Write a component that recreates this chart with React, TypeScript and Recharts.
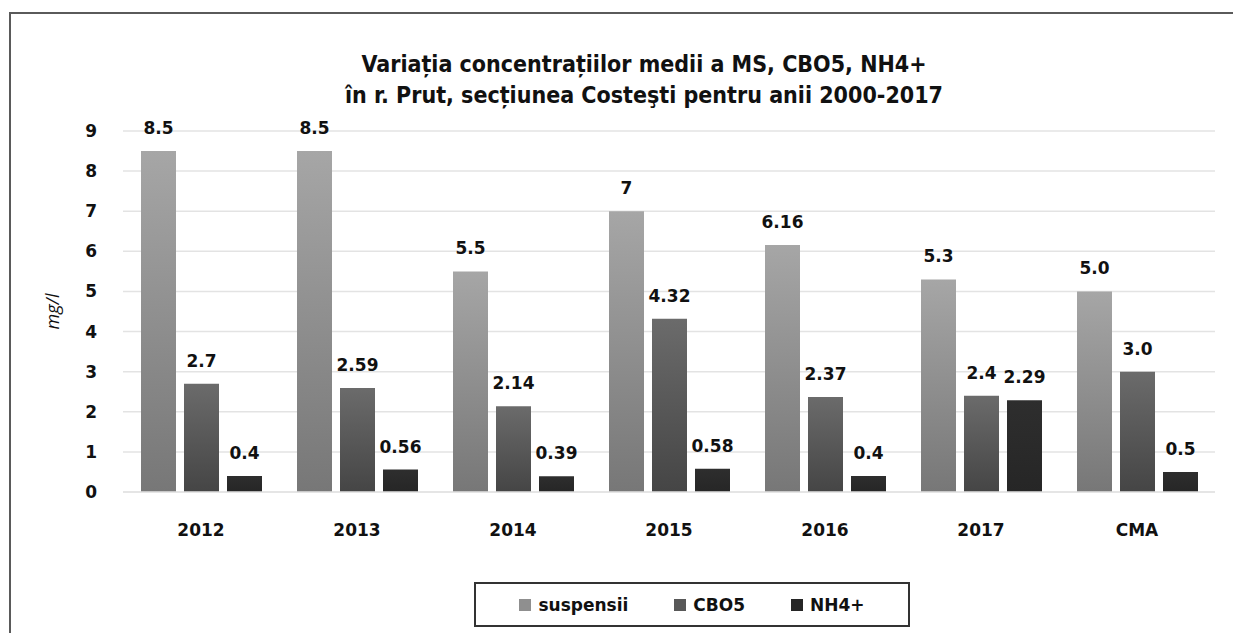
import React from 'react';
import { BarChart, Bar, XAxis, YAxis, CartesianGrid, LabelList } from 'recharts';

const categories = ['2012', '2013', '2014', '2015', '2016', '2017', 'CMA'];
const suspensii = [8.5, 8.5, 5.5, 7, 6.16, 5.3, 5.0];
const suspensiiLabels = ['8.5', '8.5', '5.5', '7', '6.16', '5.3', '5.0'];
const cbo5 = [2.7, 2.59, 2.14, 4.32, 2.37, 2.4, 3.0];
const cbo5Labels = ['2.7', '2.59', '2.14', '4.32', '2.37', '2.4', '3.0'];
const nh4 = [0.4, 0.56, 0.39, 0.58, 0.4, 2.29, 0.5];
const nh4Labels = ['0.4', '0.56', '0.39', '0.58', '0.4', '2.29', '0.5'];
const yTicks = [0, 1, 2, 3, 4, 5, 6, 7, 8, 9];

const seriesNames = ['suspensii', 'CBO5', 'NH4+'];
const legendColors = ['#8f8f8f', '#585858', '#262626'];

const data = categories.map((c, i) => ({
  name: c,
  suspensii: suspensii[i],
  suspensiiL: suspensiiLabels[i],
  cbo5: cbo5[i],
  cbo5L: cbo5Labels[i],
  nh4: nh4[i],
  nh4L: nh4Labels[i],
}));

const FONT = '"DejaVu Sans", sans-serif';

const LegendBox = () => (
  <div
    style={{
      boxSizing: 'border-box',
      width: 436,
      height: 45,
      border: '2px solid #333',
      background: '#fff',
      display: 'flex',
      alignItems: 'center',
      justifyContent: 'center',
      gap: 46,
      fontFamily: FONT,
      fontWeight: 700,
      fontSize: 17,
      color: '#111',
    }}
  >
    {seriesNames.map((n, i) => (
      <div key={n} style={{ display: 'flex', alignItems: 'center' }}>
        <span style={{ display: 'inline-block', width: 12, height: 12, background: legendColors[i], marginRight: 7 }} />
        <span>{n}</span>
      </div>
    ))}
  </div>
);

export default function App() {
  const labelStyle = { fontFamily: FONT, fontWeight: 700, fontSize: 17, fill: '#111' };
  return (
    <div style={{ position: 'relative', width: 1233, height: 625, overflow: 'hidden', background: '#fff' }}>
      <div
        style={{
          position: 'absolute',
          left: 1,
          top: 4,
          width: 1300,
          height: 700,
          borderLeft: '2px solid #5a5a5a',
          borderTop: '2px solid #5a5a5a',
        }}
      />
      <div
        style={{
          position: 'absolute',
          left: 636,
          top: 41,
          transform: 'translateX(-50%)',
          whiteSpace: 'nowrap',
          textAlign: 'center',
          fontFamily: '"DejaVu Sans Condensed", "DejaVu Sans", sans-serif',
          fontStretch: 'condensed',
          fontWeight: 700,
          fontSize: 23,
          lineHeight: '31px',
          color: '#111',
        }}
      >
        Variația concentrațiilor medii a MS, CBO5, NH4+
        <br />
        în r. Prut, secțiunea Costeşti pentru anii 2000-2017
      </div>
      <div style={{ position: 'absolute', left: 0, top: 0 }}>
        <BarChart
          width={1233}
          height={625}
          data={data}
          margin={{ top: 123, right: 26, bottom: 111, left: 0 }}
          barSize={35}
          barGap={8}
        >
          <defs>
            <linearGradient id="gSusp" x1="0" y1="0" x2="0" y2="1">
              <stop offset="0%" stopColor="#a6a6a6" />
              <stop offset="100%" stopColor="#777777" />
            </linearGradient>
            <linearGradient id="gCbo" x1="0" y1="0" x2="0" y2="1">
              <stop offset="0%" stopColor="#6b6b6b" />
              <stop offset="100%" stopColor="#454545" />
            </linearGradient>
            <linearGradient id="gNh4" x1="0" y1="0" x2="0" y2="1">
              <stop offset="0%" stopColor="#2e2e2e" />
              <stop offset="100%" stopColor="#262626" />
            </linearGradient>
          </defs>
          <CartesianGrid vertical={false} stroke="#e3e3e3" strokeWidth={1.5} />
          <XAxis
            dataKey="name"
            axisLine={{ stroke: '#e3e3e3', strokeWidth: 1.5 }}
            tickLine={false}
            tickSize={0}
            tickMargin={32}
            tick={{ fontFamily: FONT, fontWeight: 700, fontSize: 17, fill: '#111' }}
          />
          <YAxis
            width={115}
            domain={[0, 9]}
            ticks={yTicks}
            interval={0}
            axisLine={false}
            tickLine={false}
            tickSize={0}
            tickMargin={26}
            tick={{ fontFamily: FONT, fontWeight: 700, fontSize: 17, fill: '#111' }}
            label={{
              value: 'mg/l',
              angle: -90,
              position: 'insideLeft',
              dx: 40,
              dy: 0,
              style: { fontFamily: '"Open Sans", sans-serif', fontStyle: 'italic', fontSize: 18, fill: '#111', textAnchor: 'middle' },
            }}
          />
          <Bar dataKey="suspensii" name="suspensii" fill="url(#gSusp)" isAnimationActive={false}>
            <LabelList dataKey="suspensiiL" position="top" offset={17} style={labelStyle} />
          </Bar>
          <Bar dataKey="cbo5" name="CBO5" fill="url(#gCbo)" isAnimationActive={false}>
            <LabelList dataKey="cbo5L" position="top" offset={17} style={labelStyle} />
          </Bar>
          <Bar dataKey="nh4" name="NH4+" fill="url(#gNh4)" isAnimationActive={false}>
            <LabelList dataKey="nh4L" position="top" offset={17} style={labelStyle} />
          </Bar>
        </BarChart>
      </div>
      <div style={{ position: 'absolute', left: 466, top: 574 }}>
        <LegendBox />
      </div>
    </div>
  );
}
